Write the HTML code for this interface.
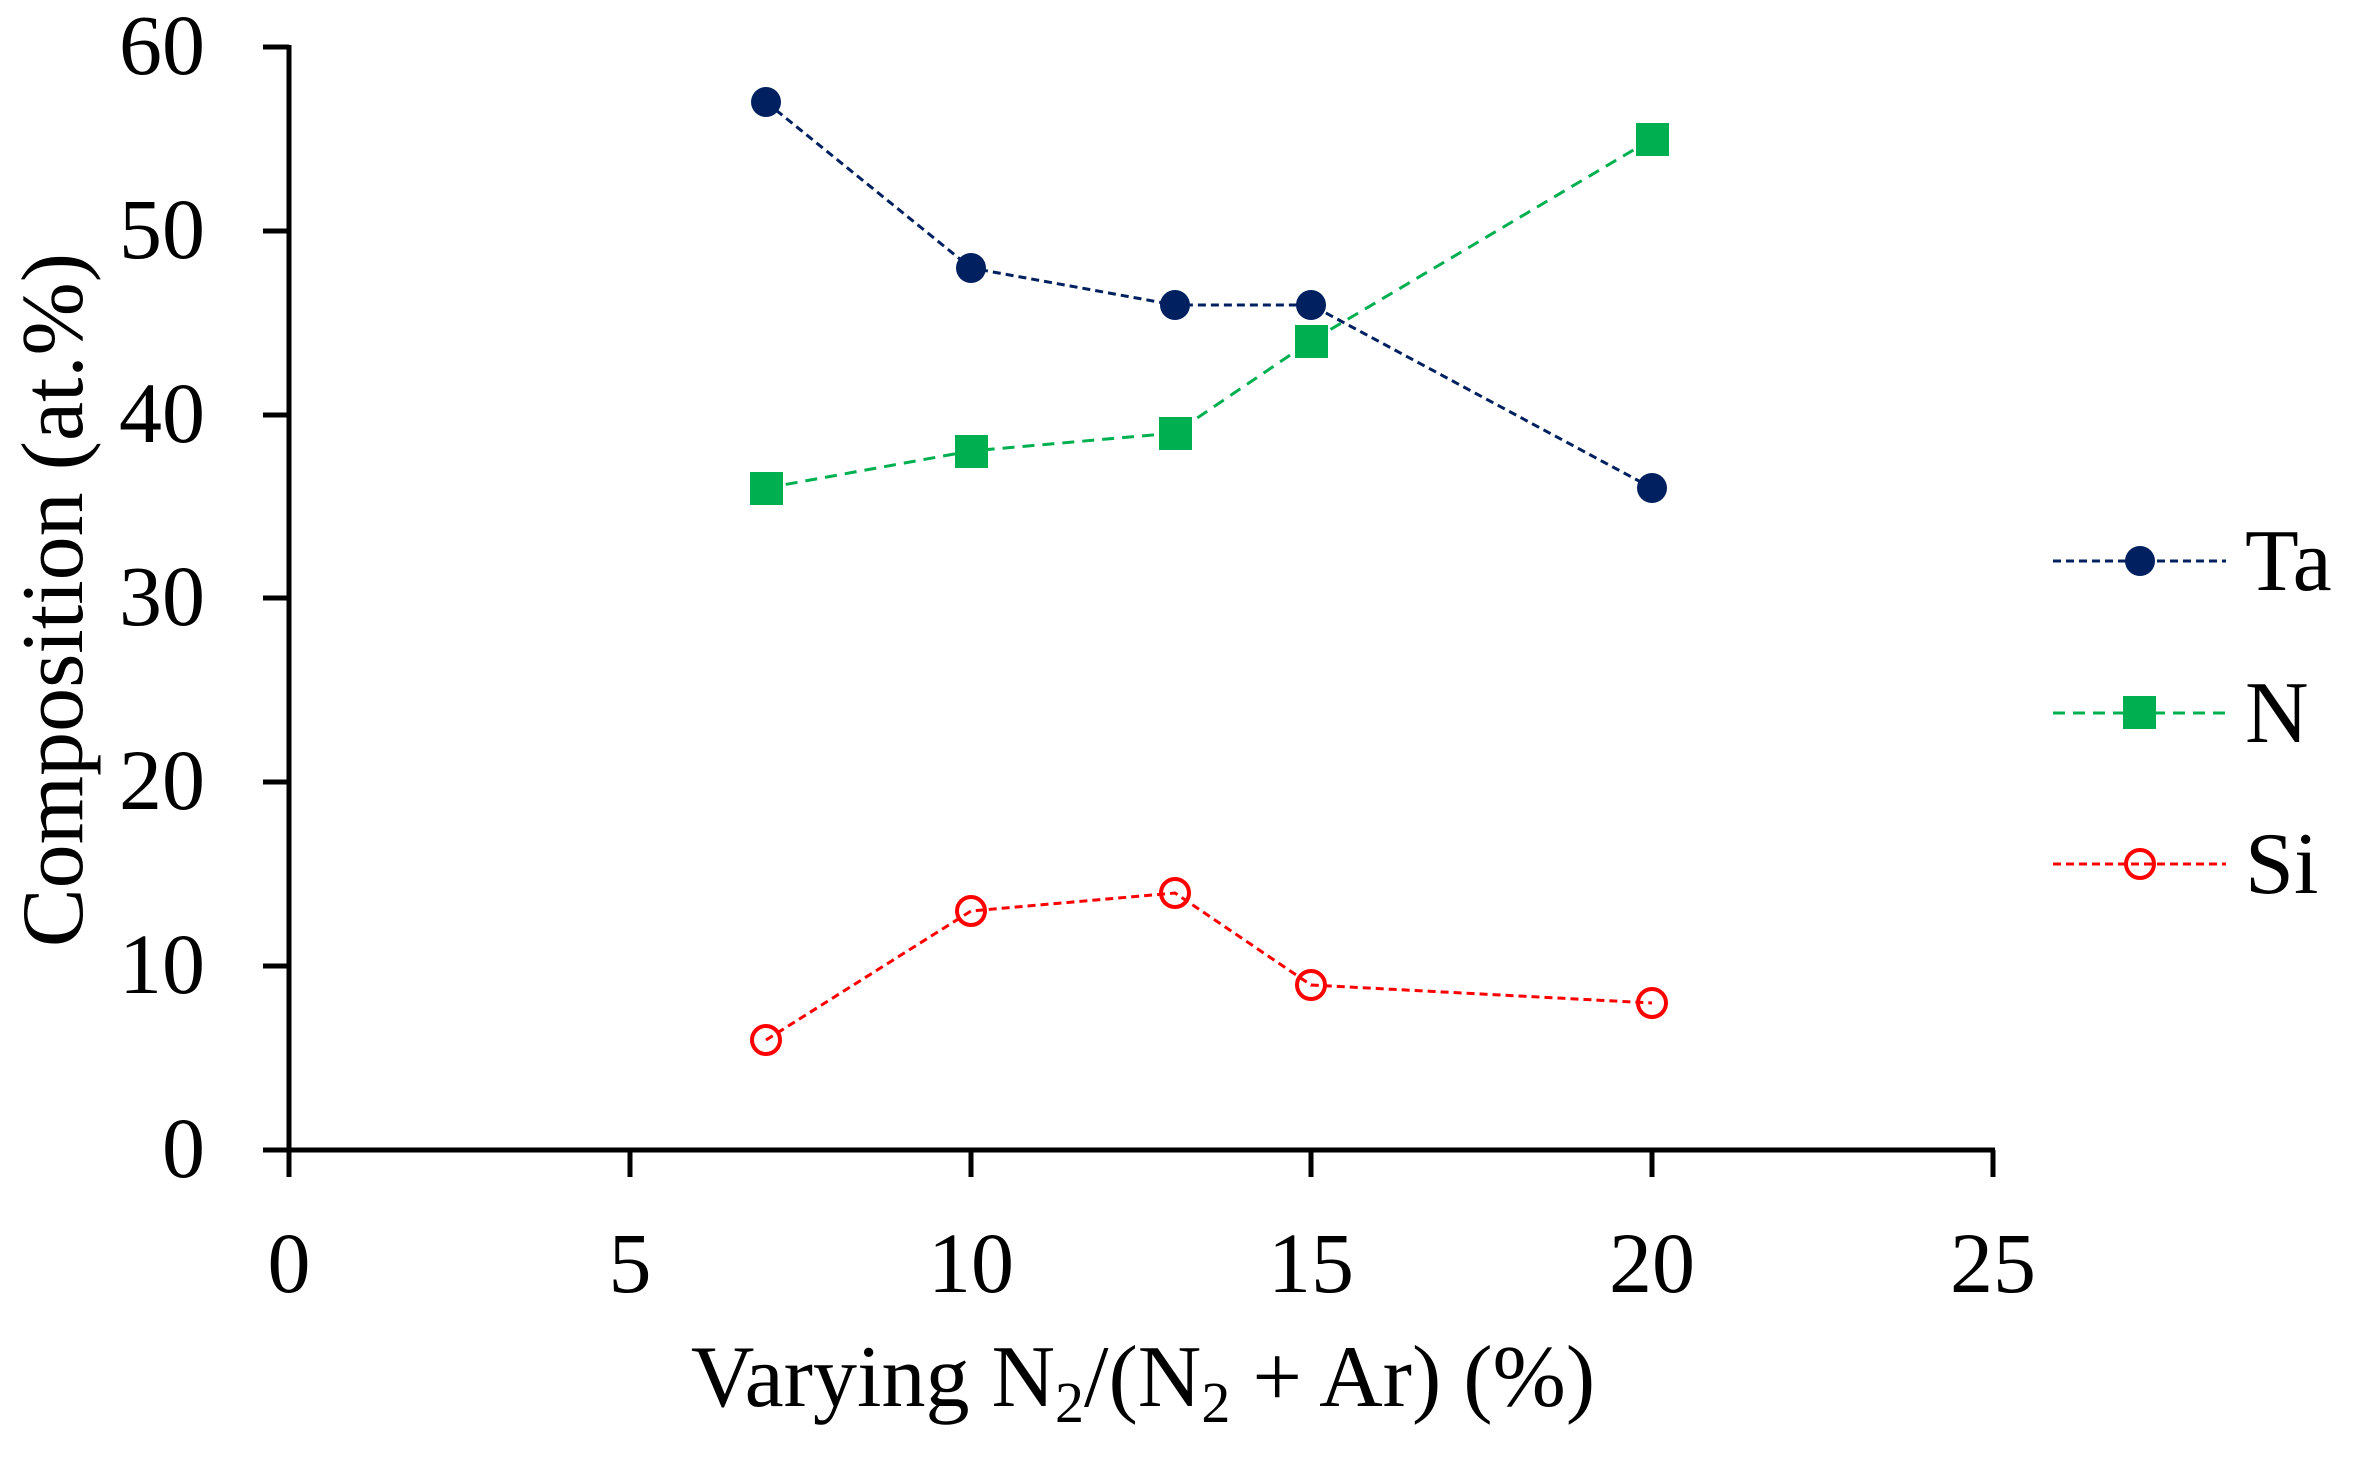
<!DOCTYPE html>
<html><head><meta charset="utf-8"><style>html,body{margin:0;padding:0;background:#fff}</style></head>
<body>
<svg width="2358" height="1453" viewBox="0 0 2358 1453" xmlns="http://www.w3.org/2000/svg" font-family="'Liberation Serif', serif">
<rect width="2358" height="1453" fill="#fff"/>
<g stroke="#000" stroke-width="5" fill="none">
<line x1="289" y1="45" x2="289" y2="1152"/>
<line x1="287" y1="1150" x2="1995" y2="1150"/>
<line x1="263" y1="47" x2="289" y2="47"/>
<line x1="263" y1="231" x2="289" y2="231"/>
<line x1="263" y1="415" x2="289" y2="415"/>
<line x1="263" y1="598" x2="289" y2="598"/>
<line x1="263" y1="782" x2="289" y2="782"/>
<line x1="263" y1="966" x2="289" y2="966"/>
<line x1="263" y1="1150" x2="289" y2="1150"/>
<line x1="289" y1="1150" x2="289" y2="1177"/>
<line x1="630" y1="1150" x2="630" y2="1177"/>
<line x1="971" y1="1150" x2="971" y2="1177"/>
<line x1="1311" y1="1150" x2="1311" y2="1177"/>
<line x1="1652" y1="1150" x2="1652" y2="1177"/>
<line x1="1993" y1="1150" x2="1993" y2="1177"/>
</g>
<g font-size="86" text-anchor="end" fill="#000">
<text x="205" y="74">60</text>
<text x="205" y="258">50</text>
<text x="205" y="442">40</text>
<text x="205" y="625">30</text>
<text x="205" y="809">20</text>
<text x="205" y="993">10</text>
<text x="205" y="1177">0</text>
</g>
<g font-size="86" text-anchor="middle" fill="#000">
<text x="289" y="1292">0</text>
<text x="630" y="1292">5</text>
<text x="971" y="1292">10</text>
<text x="1311" y="1292">15</text>
<text x="1652" y="1292">20</text>
<text x="1993" y="1292">25</text>
</g>
<text x="1143" y="1406" font-size="88" text-anchor="middle">Varying N<tspan font-size="58" dy="16">2</tspan><tspan dy="-16">/(N</tspan><tspan font-size="58" dy="16">2</tspan><tspan dy="-16"> + Ar) (%)</tspan></text>
<text transform="translate(82,600) rotate(-90)" font-size="88" text-anchor="middle">Composition (at.%)</text>
<polyline points="766,102 971,268 1175,305 1311,305 1652,488" fill="none" stroke="#002060" stroke-width="3" stroke-dasharray="8,5"/>
<polyline points="766,488 971,451 1175,433 1311,341 1652,139" fill="none" stroke="#00b050" stroke-width="3" stroke-dasharray="12,8"/>
<polyline points="766,1040 971,911 1175,893 1311,985 1652,1003" fill="none" stroke="#ff0000" stroke-width="3" stroke-dasharray="8,5"/>
<g fill="#002060">
<circle cx="766" cy="102" r="15"/><circle cx="971" cy="268" r="15"/><circle cx="1175" cy="305" r="15"/><circle cx="1311" cy="305" r="15"/><circle cx="1652" cy="488" r="15"/>
</g>
<g fill="#00b050">
<rect x="750" y="472" width="33" height="33"/><rect x="955" y="435" width="33" height="33"/><rect x="1159" y="417" width="33" height="33"/><rect x="1295" y="325" width="33" height="33"/><rect x="1636" y="123" width="33" height="33"/>
</g>
<g fill="none" stroke="#ff0000" stroke-width="4">
<circle cx="766" cy="1040" r="14"/><circle cx="971" cy="911" r="14"/><circle cx="1175" cy="893" r="14"/><circle cx="1311" cy="985" r="14"/><circle cx="1652" cy="1003" r="14"/>
</g>
<line x1="2053" y1="561" x2="2226" y2="561" stroke="#002060" stroke-width="3" stroke-dasharray="8,5"/>
<circle cx="2140" cy="561" r="15" fill="#002060"/>
<text x="2245" y="590" font-size="88">Ta</text>
<line x1="2053" y1="713" x2="2226" y2="713" stroke="#00b050" stroke-width="3" stroke-dasharray="12,8"/>
<rect x="2123" y="696" width="33" height="33" fill="#00b050"/>
<text x="2245" y="742" font-size="88">N</text>
<line x1="2053" y1="864" x2="2226" y2="864" stroke="#ff0000" stroke-width="3" stroke-dasharray="8,5"/>
<circle cx="2140" cy="864" r="14" fill="none" stroke="#ff0000" stroke-width="4"/>
<text x="2245" y="893" font-size="88">Si</text>
</svg>
</body></html>
